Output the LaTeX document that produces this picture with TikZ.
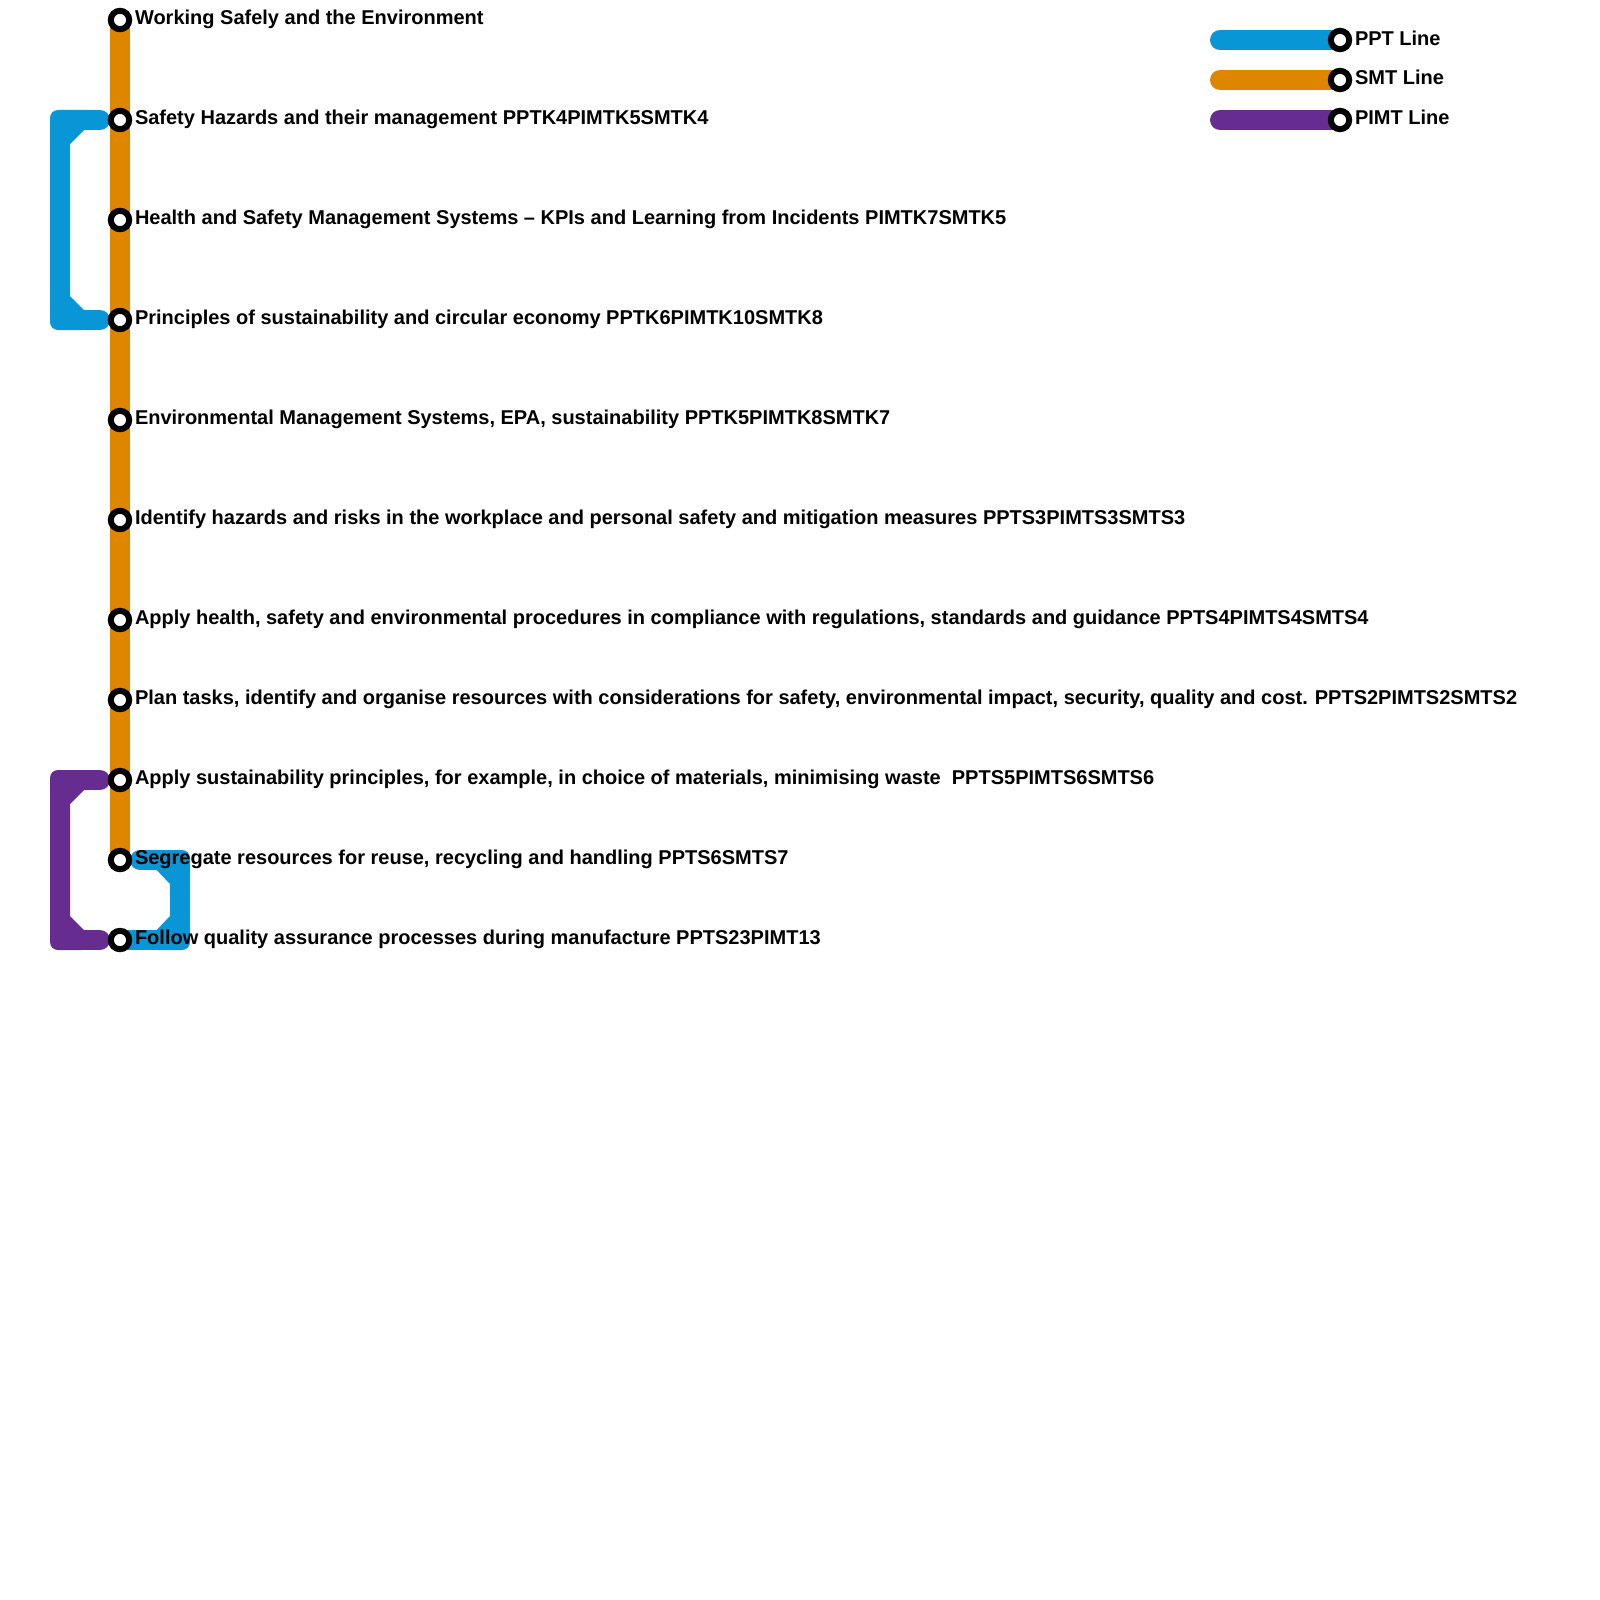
\documentclass[tikz,border=0pt]{standalone}
\usepackage{fontspec}
\setmainfont{Liberation Sans}
\frenchspacing
\definecolor{pptc}{HTML}{0896D7}
\definecolor{smtc}{HTML}{DF8600}
\definecolor{pimtc}{HTML}{662C90}
\tikzset{
  station/.style={circle,draw=black,fill=white,line width=3pt,minimum size=9.2pt,inner sep=0pt,outer sep=0pt},
  lab/.style={anchor=base west,inner sep=0pt,outer sep=0pt,font=\fontsize{10}{12}\selectfont\bfseries},
  metroline/.style={line width=10pt,line cap=round}
}
\begin{document}
\begin{tikzpicture}[x=0.5pt,y=-0.5pt]
\useasboundingbox (0,0) rectangle (1600,1600);
\foreach \n/\y in {1/20,2/120,3/220,4/320,5/420,6/520,7/620,8/700,9/780,10/860,11/940}
  \coordinate (p\n) at (120,\y);
\foreach \n/\y in {a/40,b/80,c/120}{
  \coordinate (q\n) at (1340,\y);
  \coordinate (r\n) at (1220,\y);
}
\coordinate (u2) at (100,120);
\coordinate (u4) at (100,320);
\coordinate (v2) at (84,120);
\coordinate (v4) at (84,320);
\coordinate (u9) at (100,780);
\coordinate (u11) at (100,940);
\coordinate (v9) at (84,780);
\coordinate (v11) at (84,940);
\coordinate (w10) at (140,860);
\coordinate (x10) at (157,860);
\coordinate (x11) at (157,940);
% PPT loop, left
\fill[pptc,rounded corners=4pt] (90,110) -- (50,110) -- (50,330) -- (90,330) [sharp corners]
  -- (90,310) -- (84,310) -- (70,296) -- (70,144) -- (84,130) -- (90,130) -- cycle;
\draw[metroline,pptc] (v2) -- (u2);
\draw[metroline,pptc] (v4) -- (u4);
% PPT loop, right
\fill[pptc,rounded corners=4pt] (150,850) -- (190,850) -- (190,950) -- (150,950) [sharp corners]
  -- (150,930) -- (156.7,930) -- (170,916) -- (170,884) -- (156.7,870) -- (150,870) -- cycle;
\draw[metroline,pptc] (w10) -- (x10);
\draw[metroline,pptc] (p11) -- (x11);
% PIMT loop
\fill[pimtc,rounded corners=4pt] (90,770) -- (50,770) -- (50,950) -- (90,950) [sharp corners]
  -- (90,930) -- (84,930) -- (70,916) -- (70,804) -- (84,790) -- (90,790) -- cycle;
\draw[metroline,pimtc] (v9) -- (u9);
\draw[metroline,pimtc] (v11) -- (u11);
% SMT trunk
\draw[metroline,smtc] (p1) -- (p10);
% Legend lines
\draw[metroline,pptc] (ra) -- (qa);
\draw[metroline,smtc] (rb) -- (qb);
\draw[metroline,pimtc] (rc) -- (qc);
% Stations
\foreach \n in {1,...,11}
  \node[station] (s\n) at (p\n) {};
\foreach \n in {a,b,c}
  \node[station] (t\n) at (q\n) {};
% Labels
\node[lab] (l1) at (135,25) {Working Safely and the Environment};
\node[lab] (l2) at (135,124.6) {Safety Hazards and their management PPTK4PIMTK5SMTK4};
\node[lab] (l3) at (135,224.4) {Health and Safety Management Systems – KPIs and Learning from Incidents PIMTK7SMTK5};
\node[lab] (l4) at (135,324.4) {Principles of sustainability and circular economy PPTK6PIMTK10SMTK8};
\node[lab] (l5) at (135,424.4) {Environmental Management Systems, EPA, sustainability PPTK5PIMTK8SMTK7};
\node[lab] (l6) at (135,524.4) {Identify hazards and risks in the workplace and personal safety and mitigation measures PPTS3PIMTS3SMTS3};
\node[lab] (l7) at (135,624.4) {Apply health, safety and environmental procedures in compliance with regulations, standards and guidance PPTS4PIMTS4SMTS4};
\node[lab] (l8) at (135,704.4) {Plan tasks, identify and organise resources with considerations for safety, environmental impact, security, quality and cost.\kern0.7pt{} PPTS2PIMTS2SMTS2};
\node[lab] (l9) at (135,784.4) {Apply sustainability principles, for example, in choice of materials, minimising waste \ PPTS5PIMTS6SMTS6};
\node[lab] (l10) at (135,864.4) {Segregate resources for reuse, recycling and handling PPTS6SMTS7};
\node[lab] (l11) at (135,944.4) {Follow quality assurance processes during manufacture PPTS23PIMT13};
\node[lab] (la) at (1355,45.6) {PPT Line};
\node[lab] (lb) at (1355,85) {SMT Line};
\node[lab] (lc) at (1355,125) {PIMT Line};
\end{tikzpicture}
\end{document}
